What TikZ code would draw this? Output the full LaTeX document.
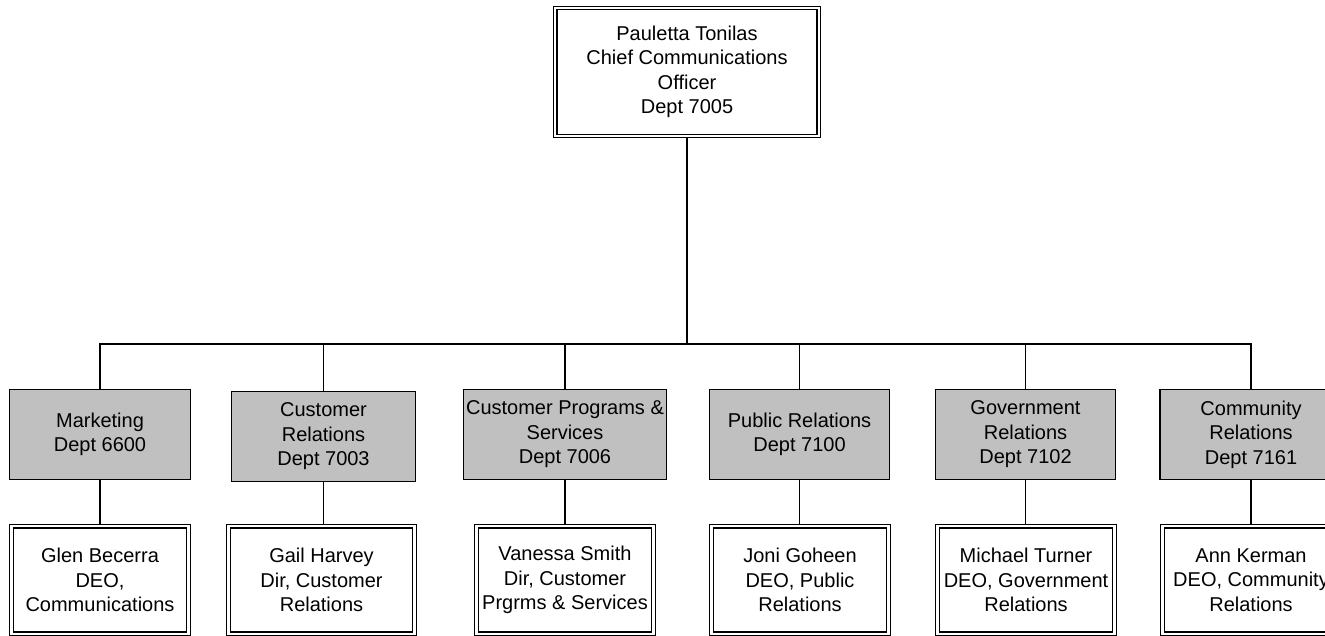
\documentclass[tikz,border=0pt]{standalone}
\usepackage{fontspec}
\setmainfont{Liberation Sans}
\usepackage{tikz}
\usetikzlibrary{positioning,shapes}
\definecolor{deptgray}{RGB}{192,192,192}
\tikzstyle{chief}  = [rectangle, draw=black, line width=1.2pt, double=white, double distance=2.3pt, outer sep=2.35pt, inner sep=0pt, align=center, font=\fontsize{20}{24.5}\selectfont]
\tikzstyle{dept}   = [rectangle, draw=black, line width=1.6pt, fill=deptgray, inner sep=0pt, minimum height=90pt, align=center, font=\fontsize{20}{24.5}\selectfont]
\tikzstyle{person} = [chief, minimum width=177pt, minimum height=107.5pt]
\tikzstyle{link}   = [line width=1.6pt, -]

\begin{document}
\begin{tikzpicture}[x=1pt,y=-1pt]
		\useasboundingbox (0,0) rectangle (1325,635);
		\clip (0,0) rectangle (1325,635);

		% head of the unit
		\node[chief, minimum width=263.5pt, minimum height=128pt] (boss) at (687,72) {Pauletta Tonilas\\Chief Communications\\Officer\\Dept 7005};
		\coordinate (bus) at (687,344);

		% departments
		\node[dept, minimum width=181pt] (mkt)  at (100,434.5)   {Marketing\\Dept 6600};
		\node[dept, minimum width=184pt] (cust) at (323.5,436.5) {Customer\\Relations\\Dept 7003};
		\node[dept, minimum width=203pt] (prog) at (565,434.5)   {Customer Programs \&\\Services\\Dept 7006};
		\node[dept, minimum width=180pt] (pub)  at (799.5,434.5) {Public Relations\\Dept 7100};
		\node[dept, minimum width=180pt] (gov)  at (1025.5,434.5) {Government\\Relations\\Dept 7102};
		\node[dept, minimum width=182pt] (comm) at (1251,434.5)  {Community\\Relations\\Dept 7161};

		% people
		\node[person] (glen) at (100,580) {Glen Becerra\\DEO,\\Communications};
		\node[person, minimum width=186pt] (gail) at (321.5,580) {Gail Harvey\\Dir, Customer\\Relations};
		\node[person] (vanessa) at (565,580) {Vanessa Smith\\Dir, Customer\\Prgrms \& Services};
		\node[person] (joni)    at (800,580) {Joni Goheen\\DEO, Public\\Relations};
		\node[person] (michael) at (1026,580) {Michael Turner\\DEO, Government\\Relations};
		\node[person] (ann)     at (1251,580) {Ann Kerman\\DEO, Community\\Relations};

		\draw[link] (boss.south) -- (bus);
		\foreach \d/\p in {mkt/glen, cust/gail, prog/vanessa, pub/joni, gov/michael, comm/ann}
		{
			\draw[link] (bus) -| (\d.north);
			\draw[link] (\d.south) -- (\d.south |- \p.north);
		}
	\end{tikzpicture}
\end{document}
